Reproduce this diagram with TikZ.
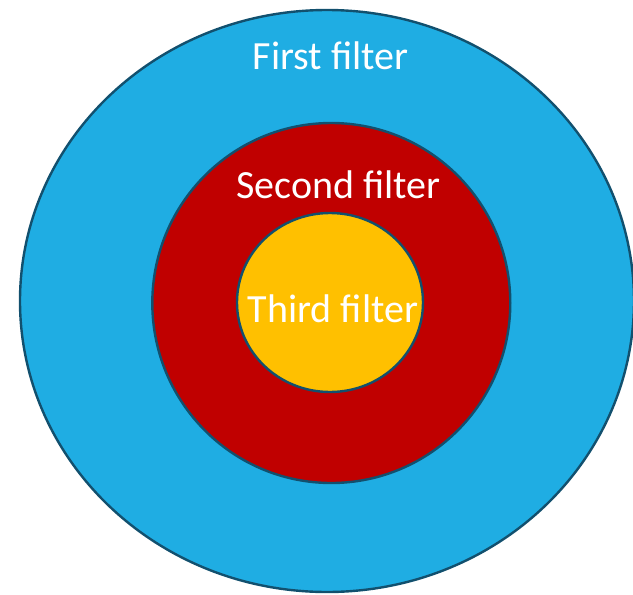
\documentclass[tikz,border=0pt]{standalone}
\usepackage{fontspec}
\setmainfont{Carlito}
\definecolor{ringline}{HTML}{12506E}
\definecolor{bluefill}{HTML}{1FADE3}
\definecolor{redfill}{HTML}{C00000}
\definecolor{yellowfill}{HTML}{FFC000}
\begin{document}
\begin{tikzpicture}[x=1pt,y=-1pt,
  ring/.style={draw=ringline, line width=2.4pt},
  lbl/.style={text=white, font=\fontsize{40}{46}\selectfont, inner sep=0pt, anchor=base}]
\useasboundingbox (0,0) rectangle (633,595);
\path[ring, fill=bluefill] (327,301) ellipse [x radius=307, y radius=291];
\path[ring, fill=redfill] (331.3,303) ellipse [x radius=179, y radius=180];
\path[ring, fill=yellowfill] (330,302.5) ellipse [x radius=93, y radius=89.5];
\node[lbl] (first) at (330.5,69.5) {First filter};
\node[lbl] (second) at (338.6,198) {Second filter};
\node[lbl] (third) at (333,322) {Third filter};
\end{tikzpicture}
\end{document}
